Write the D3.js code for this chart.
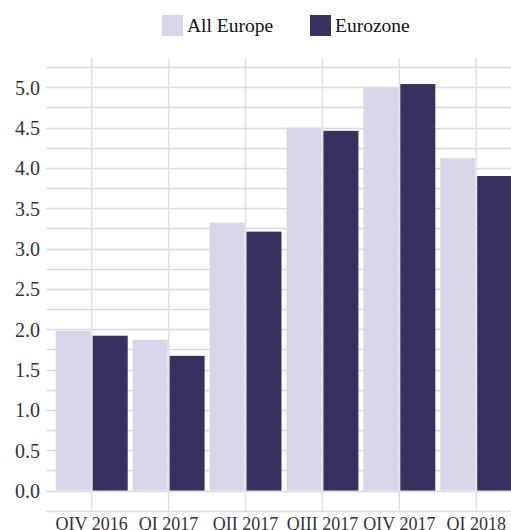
<!DOCTYPE html>
<html>
<head>
<meta charset="utf-8">
<script src="https://cdn.jsdelivr.net/npm/d3@7/dist/d3.min.js"></script>
<style>
  html, body { margin: 0; padding: 0; background: #fff; overflow: hidden; }
  svg, svg text { font-family: "Liberation Serif", "Times New Roman", "DejaVu Serif", serif !important; }
</style>
</head>
<body>
<svg id="chart" width="511" height="530"></svg>
<script>
const categories = ["QIV 2016", "QI 2017", "QII 2017", "QIII 2017", "QIV 2017", "QI 2018"];
const seriesNames = ["All Europe", "Eurozone"];
const allEurope = [1.98, 1.87, 3.32, 4.50, 5.00, 4.12];
const eurozone  = [1.92, 1.67, 3.21, 4.46, 5.04, 3.90];
const yTickLabels = [0.0, 0.5, 1.0, 1.5, 2.0, 2.5, 3.0, 3.5, 4.0, 4.5, 5.0];
const colors = ["#d9d6ea", "#38305f"];

const seriesValues = [allEurope, eurozone];
const svg = d3.select("#chart");

const y = d3.scaleLinear().domain([-0.25, 5.25]).range([510.7, 67.1]);
const x0 = d3.scaleBand().domain(categories).range([53.25, 514.65])
  .paddingInner(0.064).paddingOuter(0.032);
const x1 = d3.scaleBand().domain(seriesNames).range([0, x0.bandwidth()]).paddingInner(0.055);

const gridLeft = 46, gridRight = 520;

// horizontal gridlines every 0.25
const gridVals = d3.range(-0.25, 5.26, 0.25);
svg.append("g").selectAll("line").data(gridVals).join("line")
  .attr("x1", gridLeft).attr("x2", gridRight)
  .attr("y1", d => Math.round(y(d)) + 0.5).attr("y2", d => Math.round(y(d)) + 0.5)
  .attr("stroke", "#dcdcdc").attr("stroke-width", 1.3);

// vertical gridlines at category centres
svg.append("g").selectAll("line").data(categories).join("line")
  .attr("x1", d => x0(d) + x0.bandwidth() / 2).attr("x2", d => x0(d) + x0.bandwidth() / 2)
  .attr("y1", 58).attr("y2", y(-0.25) + 0.5)
  .attr("stroke", "#e0e0e0").attr("stroke-width", 1.5);

// bars
const groups = svg.append("g").selectAll("g").data(categories).join("g")
  .attr("transform", d => `translate(${x0(d)},0)`);
groups.selectAll("rect")
  .data((c, i) => seriesNames.map((s, j) => ({ s, j, v: seriesValues[j][i] })))
  .join("rect")
  .attr("x", d => x1(d.s))
  .attr("width", x1.bandwidth())
  .attr("y", d => y(Math.max(0, d.v)))
  .attr("height", d => Math.abs(y(d.v) - y(0)))
  .attr("fill", d => colors[d.j]);

// y axis labels
const yAxis = d3.axisLeft(y).tickValues(yTickLabels).tickFormat(d3.format(".1f")).tickSize(0).tickPadding(0);
const yg = svg.append("g").attr("transform", "translate(40,0)").call(yAxis);
yg.attr("font-family", null);
yg.select(".domain").remove();
yg.selectAll("text").style("font-size", "20px").attr("fill", "#333").attr("dy", "0.34em");

// x axis labels
const xAxis = d3.axisBottom(x0).tickSize(0).tickPadding(0);
const xg = svg.append("g").attr("transform", "translate(0,530)").call(xAxis);
xg.attr("font-family", null);
xg.select(".domain").remove();
xg.selectAll("text").style("font-size", "18px").attr("fill", "#333").attr("dy", "0em").attr("y", 0);

// legend
const legendX = [162, 310];
const lg = svg.append("g").selectAll("g").data(seriesNames).join("g")
  .attr("transform", (d, i) => `translate(${legendX[i]},15)`);
lg.append("rect").attr("width", 21).attr("height", 21).attr("fill", (d, i) => colors[i]);
lg.append("text").attr("x", 25).attr("y", 16.5).style("font-size", "19.5px").attr("fill", "#111")
  .text(d => d);
</script>
</body>
</html>
